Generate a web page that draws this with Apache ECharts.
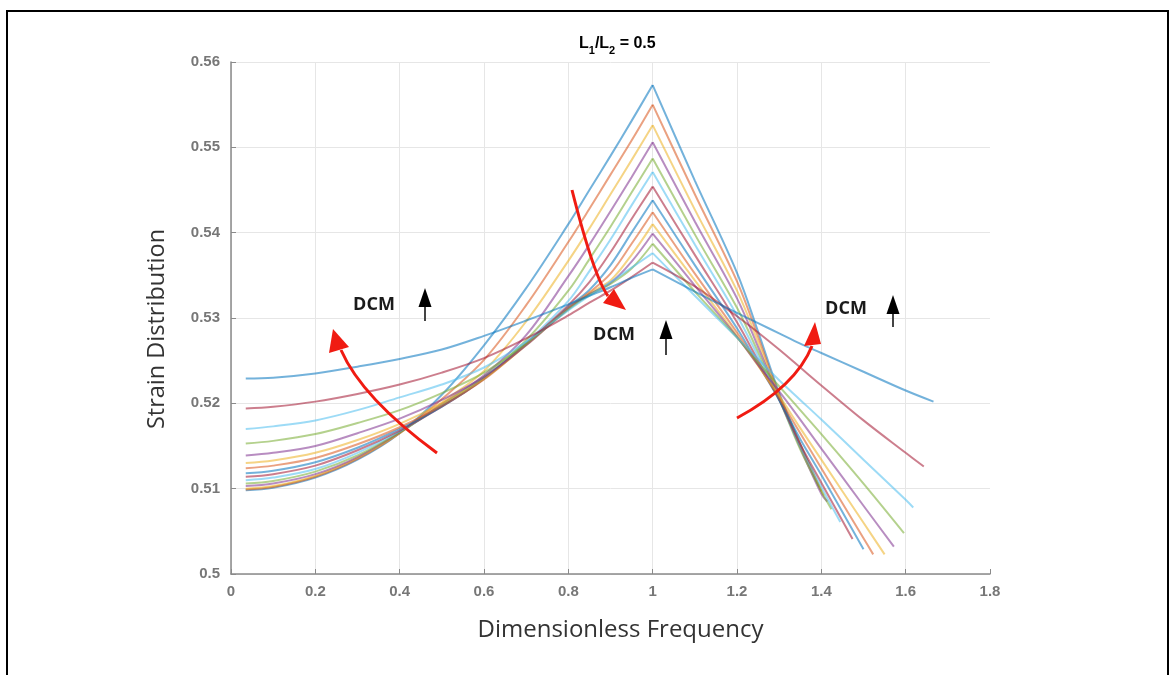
<!DOCTYPE html>
<html>
<head>
<meta charset="utf-8">
<script src="https://cdn.jsdelivr.net/npm/echarts@6/dist/echarts.min.js"></script>
<style>
html,body{margin:0;padding:0;background:#fff;}
#chart{width:1171px;height:675px;}
</style>
</head>
<body>
<div id="chart"></div>
<script>
// ---- data ----
const FREQ = [0.035, 0.1, 0.2, 0.3, 0.4, 0.5, 0.6, 0.7, 0.8, 0.85, 0.9, 0.95, 1.0, 1.1, 1.2, 1.25, 1.3, 1.35, 1.4, 1.5, 1.6];
const PEAK_FREQ = 1.0;

const curve01 = [0.5098,0.5101,0.5113,0.5134,0.5165,0.5210,0.5268,0.5335,0.5410,0.5450,0.5490,0.5531,0.5573,0.5461,0.5353,0.5284,0.5212,0.5152,null,null,null];
const curve02 = [0.5099,0.5102,0.5114,0.5135,0.5165,0.5205,0.5251,0.5315,0.5389,0.5428,0.5468,0.5508,0.5550,0.5445,0.5343,0.5278,0.5210,0.5152,null,null,null];
const curve03 = [0.5100,0.5103,0.5115,0.5136,0.5165,0.5201,0.5238,0.5296,0.5367,0.5405,0.5445,0.5485,0.5526,0.5427,0.5332,0.5272,0.5208,0.5150,null,null,null];
const curve04 = [0.5103,0.5106,0.5117,0.5137,0.5166,0.5199,0.5233,0.5280,0.5349,0.5386,0.5425,0.5465,0.5506,0.5413,0.5323,0.5266,0.5206,0.5148,0.5094,null,null];
const curve05 = [0.5106,0.5109,0.5120,0.5139,0.5166,0.5198,0.5231,0.5274,0.5332,0.5369,0.5407,0.5447,0.5487,0.5398,0.5312,0.5260,0.5205,0.5146,0.5097,null,null];
const curve06 = [0.5110,0.5113,0.5123,0.5142,0.5167,0.5197,0.5230,0.5271,0.5320,0.5355,0.5392,0.5432,0.5471,0.5386,0.5303,0.5255,0.5204,0.5150,0.5102,null,null];
const curve07 = [0.5114,0.5117,0.5127,0.5145,0.5168,0.5196,0.5229,0.5270,0.5315,0.5342,0.5377,0.5416,0.5454,0.5374,0.5295,0.5250,0.5204,0.5152,0.5107,null,null];
const curve08 = [0.5118,0.5121,0.5131,0.5148,0.5170,0.5196,0.5229,0.5269,0.5313,0.5333,0.5362,0.5400,0.5438,0.5362,0.5288,0.5246,0.5204,0.5158,0.5116,null,null];
const curve09 = [0.5124,0.5127,0.5136,0.5152,0.5172,0.5197,0.5228,0.5269,0.5312,0.5330,0.5352,0.5387,0.5424,0.5352,0.5283,0.5245,0.5206,0.5165,0.5124,0.5042,null];
const curve10 = [0.5130,0.5133,0.5142,0.5157,0.5176,0.5200,0.5229,0.5268,0.5311,0.5329,0.5344,0.5374,0.5410,0.5344,0.5279,0.5244,0.5209,0.5171,0.5134,0.5060,null];
const curve11 = [0.5139,0.5142,0.5150,0.5165,0.5182,0.5204,0.5231,0.5268,0.5311,0.5328,0.5341,0.5366,0.5399,0.5338,0.5278,0.5245,0.5214,0.5181,0.5147,0.5080,null];
const curve12 = [0.5153,0.5156,0.5164,0.5177,0.5192,0.5212,0.5236,0.5270,0.5310,0.5327,0.5340,0.5358,0.5387,0.5331,0.5277,0.5248,0.5220,0.5192,0.5164,0.5106,null];
const curve13 = [0.5170,0.5173,0.5180,0.5192,0.5207,0.5222,0.5242,0.5272,0.5309,0.5326,0.5342,0.5359,0.5376,0.5326,0.5277,0.5252,0.5227,0.5204,0.5181,0.5134,0.5087];
const curve14 = [0.5194,0.5196,0.5202,0.5211,0.5222,0.5236,0.5253,0.5276,0.5303,0.5318,0.5332,0.5348,0.5365,0.5337,0.5302,0.5283,0.5263,0.5242,0.5221,0.5180,0.5142];
const curve15 = [0.5229,0.5230,0.5235,0.5243,0.5252,0.5263,0.5279,0.5297,0.5316,0.5326,0.5336,0.5347,0.5357,0.5331,0.5306,0.5294,0.5282,0.5270,0.5259,0.5237,0.5215];

// last sample of every curve (its own end frequency)
const END_FREQ   = [1.395, 1.400, 1.406, 1.414, 1.424, 1.445, 1.474, 1.500, 1.523, 1.550, 1.572, 1.596, 1.618, 1.643, 1.666];
const END_STRAIN = [0.5102,0.5097,0.5092,0.5085,0.5076,0.5061,0.5041,0.5029,0.5023,0.5023,0.5032,0.5048,0.5078,0.5126,0.5202];

const X_MIN = 0, X_MAX = 1.8, X_STEP = 0.2;
const Y_MIN = 0.5, Y_MAX = 0.56, Y_STEP = 0.01;

const TITLE_MAIN = ['L', '1', '/L', '2', ' = 0.5'];
const X_NAME = 'Dimensionless Frequency';
const Y_NAME = 'Strain Distribution';
const NOTE = 'DCM';

// ---- styling ----
const MATLAB_COLORS = ['#0072BD','#D95319','#EDB120','#7E2F8E','#77AC30','#4DBEEE','#A2142F'];
const CURVES = [curve01,curve02,curve03,curve04,curve05,curve06,curve07,curve08,curve09,curve10,curve11,curve12,curve13,curve14,curve15];

// each curve is drawn as two smooth branches meeting at the (sharp) resonance peak
const series = [];
CURVES.forEach((vals, i) => {
  const pts = [];
  FREQ.forEach((f, j) => { if (vals[j] !== null) pts.push([f, vals[j]]); });
  pts.push([END_FREQ[i], END_STRAIN[i]]);
  const left = pts.filter(p => p[0] <= PEAK_FREQ);
  const right = pts.filter(p => p[0] >= PEAK_FREQ);
  [left, right].forEach((branch, b) => {
    series.push({
      type: 'line',
      name: 'curve' + (i + 1) + (b ? 'R' : 'L'),
      data: branch,
      showSymbol: false,
      symbol: 'none',
      smooth: 0.35,
      clip: false,
      lineStyle: { color: MATLAB_COLORS[i % 7], width: 2, opacity: 0.55 },
      emphasis: { disabled: true }
    });
  });
});

const chart = echarts.init(document.getElementById('chart'), null, { renderer: 'canvas' });

const red = '#f01b12';
function redArrow(x1, y1, cx, cy, x2, y2, head) {
  return [
    { type: 'bezierCurve', shape: { x1: x1, y1: y1, cpx1: cx, cpy1: cy, x2: x2, y2: y2 },
      style: { stroke: red, lineWidth: 3, fill: null }, z: 100 },
    { type: 'polygon', shape: { points: head }, style: { fill: red }, z: 100 }
  ];
}
function blackArrow(x, yTip, yEnd) {
  return [
    { type: 'line', shape: { x1: x, y1: yTip + 16, x2: x, y2: yEnd }, style: { stroke: '#444', lineWidth: 2 }, z: 100 },
    { type: 'polygon', shape: { points: [[x, yTip], [x - 6.5, yTip + 19], [x + 6.5, yTip + 19]] }, style: { fill: '#000' }, z: 100 }
  ];
}
function noteText(cx, cy) {
  return { type: 'text', x: cx, y: cy, z: 100,
    style: { text: NOTE, fill: '#1a1a1a', font: 'bold 18px "Open Sans", sans-serif', align: 'center', verticalAlign: 'middle' } };
}

const graphics = [
  { type: 'rect', shape: { x: 7, y: 11, width: 1161, height: 720 }, style: { fill: null, stroke: '#000', lineWidth: 2 }, z: 0 },
  ...redArrow(437, 453, 362, 398, 341, 350, [[333, 329], [329, 353], [349, 347]]),
  ...redArrow(572, 190, 594, 277, 608, 296, [[626, 310], [603, 303], [614, 289]]),
  ...redArrow(737, 418, 796, 386, 812, 346, [[815, 322], [804, 346], [821, 344]]),
  ...blackArrow(425, 288, 321),
  ...blackArrow(666, 320, 355),
  ...blackArrow(893, 295, 327),
  noteText(374, 305),
  noteText(614, 335),
  noteText(846, 309)
];

chart.setOption({
  animation: false,
  backgroundColor: '#fff',
  title: {
    text: '{m|' + TITLE_MAIN[0] + '}{s|' + TITLE_MAIN[1] + '}{m|' + TITLE_MAIN[2] + '}{s|' + TITLE_MAIN[3] + '}{m|' + TITLE_MAIN[4] + '}',
    left: 574, top: 27,
    textStyle: {
      rich: {
        m: { fontFamily: '"Liberation Sans", Arial, sans-serif', fontWeight: 'bold', fontSize: 16, color: '#000', verticalAlign: 'bottom', lineHeight: 20 },
        s: { fontFamily: '"Liberation Sans", Arial, sans-serif', fontWeight: 'bold', fontSize: 11, color: '#000', verticalAlign: 'bottom', lineHeight: 12, padding: [0, 0, -4, 0] }
      }
    }
  },
  grid: { left: 231, right: 181, top: 62, bottom: 101, containLabel: false },
  xAxis: {
    type: 'value', min: X_MIN, max: X_MAX, interval: X_STEP,
    name: X_NAME, nameLocation: 'middle', nameGap: 44,
    nameTextStyle: { fontFamily: '"Open Sans", sans-serif', fontSize: 24, color: '#333', padding: [0, 0, 0, 20] },
    axisLine: { lineStyle: { color: '#8a8a8a', width: 1.5 } },
    axisTick: { inside: true, length: 5, lineStyle: { color: '#8a8a8a' } },
    axisLabel: { fontFamily: '"Liberation Sans", Arial, sans-serif', fontSize: 15, fontWeight: 'bold', color: '#777', margin: 10 },
    splitLine: { show: true, showMaxLine: false, lineStyle: { color: '#e6e6e6', width: 1 } }
  },
  yAxis: {
    type: 'value', min: Y_MIN, max: Y_MAX, interval: Y_STEP,
    name: Y_NAME, nameLocation: 'middle', nameGap: 62, nameRotate: 90,
    nameTextStyle: { fontFamily: '"Open Sans", sans-serif', fontSize: 23.5, color: '#333', padding: [0, 22, 0, 0] },
    axisLine: { show: true, lineStyle: { color: '#8a8a8a', width: 1.5 } },
    axisTick: { show: true, inside: true, length: 5, lineStyle: { color: '#8a8a8a' } },
    axisLabel: { fontFamily: '"Liberation Sans", Arial, sans-serif', fontSize: 15, fontWeight: 'bold', color: '#777', margin: 11 },
    splitLine: { show: true, lineStyle: { color: '#e6e6e6', width: 1 } }
  },
  series: series,
  graphic: graphics
});
</script>
</body>
</html>
